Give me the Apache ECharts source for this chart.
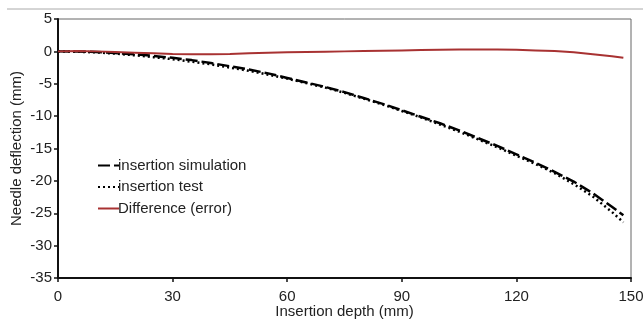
<!DOCTYPE html>
<html><head><meta charset="utf-8">
<script src="https://cdn.jsdelivr.net/npm/echarts@6/dist/echarts.min.js"></script>
<style>html,body{margin:0;padding:0;background:#fff}#c{width:643px;height:322px}</style>
</head><body><div id="c"></div>
<script>
const depth = [0,5,10,15,20,25,30,35,40,45,50,55,60,65,70,75,80,85,90,95,100,105,110,115,120,125,130,135,140,145,148];
const simulation = [0,-0.02,-0.1,-0.25,-0.45,-0.7,-1.0,-1.35,-1.8,-2.3,-2.8,-3.4,-4.1,-4.8,-5.5,-6.3,-7.2,-8.1,-9.1,-10.1,-11.1,-12.2,-13.4,-14.6,-15.9,-17.2,-18.6,-20.1,-21.9,-24.0,-25.3];
const test = [0,-0.05,-0.15,-0.35,-0.6,-0.9,-1.2,-1.6,-2.0,-2.5,-3.0,-3.6,-4.2,-4.9,-5.6,-6.4,-7.3,-8.2,-9.2,-10.2,-11.3,-12.4,-13.6,-14.8,-16.1,-17.4,-18.8,-20.5,-22.4,-24.8,-26.4];
const difference = [0,0.05,0,-0.1,-0.2,-0.3,-0.4,-0.45,-0.45,-0.4,-0.3,-0.2,-0.15,-0.1,-0.05,0,0.05,0.1,0.15,0.2,0.25,0.3,0.3,0.3,0.25,0.15,0.05,-0.15,-0.45,-0.75,-1.0];
const seriesNames = ['insertion simulation','insertion test','Difference (error)'];

const pair = arr => depth.map((d,i)=>[d,arr[i]]);
const font = 'Liberation Sans, Arial, sans-serif';
const chart = echarts.init(document.getElementById('c'));
chart.setOption({
  animation:false,
  backgroundColor:'#fff',
  grid:{left:58,right:12,top:19,bottom:44,show:true,borderColor:'#666',borderWidth:1,
    containLabel:false,outerBoundsMode:'none'},
  legend:{orient:'vertical',left:92,top:153,itemGap:6.5,itemWidth:21,itemHeight:14,
    itemStyle:{opacity:0},
    textStyle:{fontFamily:font,fontSize:15,color:'#222',padding:[0,0,0,-6]},
    data:seriesNames},
  xAxis:{type:'value',min:0,max:150,interval:30,
    name:'Insertion depth (mm)',nameLocation:'middle',nameGap:26,nameMoveOverlap:false,
    nameTextStyle:{fontFamily:font,fontSize:15,color:'#222'},
    axisLine:{show:true,onZero:false,lineStyle:{color:'#111',width:2}},
    axisTick:{show:true,length:4,lineStyle:{color:'#111',width:1.5}},
    axisLabel:{fontFamily:font,fontSize:15,color:'#222',margin:11},
    splitLine:{show:false}},
  yAxis:{type:'value',min:-35,max:5,interval:5,
    name:'Needle deflection (mm)',nameLocation:'middle',nameGap:34,nameRotate:90,nameMoveOverlap:false,
    nameTextStyle:{fontFamily:font,fontSize:15,color:'#222'},
    axisLine:{show:true,onZero:false,lineStyle:{color:'#111',width:2}},
    axisTick:{show:true,length:4,lineStyle:{color:'#111',width:1.5}},
    axisLabel:{fontFamily:font,fontSize:15,color:'#222',margin:6},
    splitLine:{show:false}},
  graphic:[{type:'line',shape:{x1:7,y1:9,x2:643,y2:9},style:{stroke:'#aaa',lineWidth:1}}],
  series:[
    {name:seriesNames[0],type:'line',data:pair(simulation),symbol:'none',
      lineStyle:{color:'#000',width:2.5,type:[12,4]},itemStyle:{color:'#000'},z:3},
    {name:seriesNames[1],type:'line',data:pair(test),symbol:'none',
      lineStyle:{color:'#000',width:2.5,type:[2,3]},itemStyle:{color:'#000'},z:4},
    {name:seriesNames[2],type:'line',data:pair(difference),symbol:'none',
      lineStyle:{color:'#a83232',width:2},itemStyle:{color:'#a83232'},z:5}
  ]
});
</script></body></html>
